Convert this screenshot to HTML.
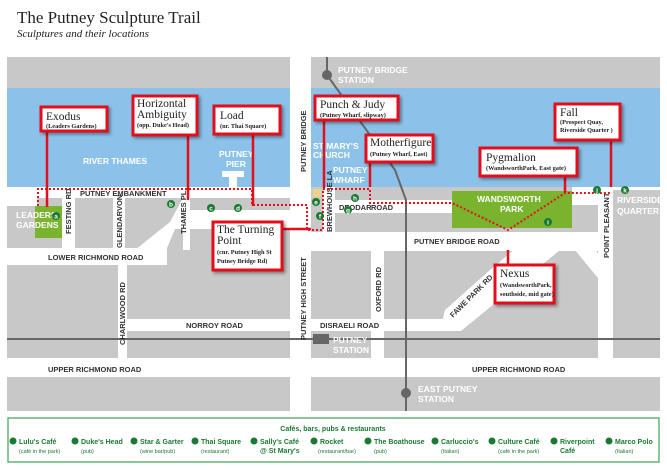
<!DOCTYPE html>
<html><head><meta charset="utf-8"><style>
html,body{margin:0;padding:0;background:#fff;}
svg{display:block;}
.r{font-family:"Liberation Sans",sans-serif;font-weight:bold;font-size:7.5px;fill:#333;}
.w{font-family:"Liberation Sans",sans-serif;font-weight:bold;font-size:8.5px;fill:#fff;}
.bx{fill:#fff;stroke:#e3101b;stroke-width:3;}
.bt{font-family:"Liberation Serif",serif;font-size:11.5px;fill:#222;}
.bs{font-family:"Liberation Serif",serif;font-size:6.3px;font-weight:bold;fill:#222;}
.ln{stroke:#e3101b;stroke-width:2.5;fill:none;}
.dt{stroke:#e3101b;stroke-width:2;stroke-dasharray:2 2;fill:none;}
.c{fill:#1a7a32;}
.cl{font-family:"Liberation Sans",sans-serif;font-weight:bold;font-size:6.5px;fill:#fff;text-anchor:middle;}
.lg{font-family:"Liberation Sans",sans-serif;font-weight:bold;font-size:7px;fill:#1a7a32;}
.ls{font-family:"Liberation Sans",sans-serif;font-size:5.5px;fill:#1a7a32;}
</style></head><body>
<svg width="667" height="472" viewBox="0 0 667 472" xmlns="http://www.w3.org/2000/svg">
<defs><filter id="sh" x="-10%" y="-10%" width="130%" height="140%"><feDropShadow dx="2" dy="2" stdDeviation="1.5" flood-opacity="0.4"/></filter></defs>
<text x="17" y="23" font-family="Liberation Serif,serif" font-size="17" fill="#222">The Putney Sculpture Trail</text>
<text x="17" y="37" font-family="Liberation Serif,serif" font-size="11" font-style="italic" fill="#222">Sculptures and their locations</text>
<rect x="7" y="57" width="653" height="354" fill="#c8c8c8"/>
<rect x="7" y="88" width="653" height="99" fill="#8cc2ea"/>
<g fill="#fff">
<rect x="7" y="187" width="283" height="11"/>
<rect x="7" y="187" width="30" height="19"/>
<rect x="290" y="57" width="21" height="354"/>
<rect x="62" y="198" width="13" height="52"/>
<rect x="113" y="198" width="12" height="52"/>
<rect x="7" y="248" width="160" height="17"/>
<polygon points="183,198 190,198 190,210 290,210 290,229 230,229 175,229 160,265 135,265 135,250 170,222"/>
<rect x="183" y="198" width="7" height="52"/>
<rect x="118" y="265" width="9" height="93"/>
<rect x="127" y="319" width="163" height="12"/>
<rect x="7" y="358" width="653" height="19"/>
<rect x="311" y="232" width="290" height="19"/>
<rect x="323" y="187" width="12" height="46"/>
<rect x="335" y="200" width="117" height="13"/>
<rect x="371" y="251" width="13" height="107"/>
<rect x="311" y="319" width="150" height="12"/>
<polygon points="440,331 461,331 560,250 580,250 535,232 490,270 445,310"/>
<polygon points="572,187 660,187 660,190 613,190 613,205 572,205"/>
<polygon points="560,232 580,232 612,270 612,358 598,358 598,278"/>
<rect x="598" y="190" width="15" height="168"/>
<rect x="311" y="213" width="12" height="20"/>
</g>
<rect x="190" y="199" width="62" height="11" fill="#c8c8c8"/>
<rect x="335" y="187" width="117" height="13" fill="#c8c8c8"/>
<rect x="311" y="187" width="12" height="45" fill="#c8c8c8"/>
<rect x="613" y="190" width="47" height="168" fill="#c8c8c8"/>
<rect x="35" y="206" width="27" height="32" fill="#7ab32e"/>
<rect x="452" y="191" width="120" height="37" fill="#7ab32e"/>
<rect x="313" y="189" width="8" height="8" fill="#f0d28a"/>
<rect x="222" y="171" width="22" height="6" fill="#fff"/><rect x="229" y="177" width="8" height="10" fill="#fff"/>
<g stroke="#666" stroke-width="2" fill="none">
<polyline points="327,57 327,75 395,170 406,200 406,411"/>
<line x1="7" y1="339" x2="660" y2="339"/>
</g>
<circle cx="327" cy="75" r="5" fill="#666"/>
<circle cx="406" cy="393" r="5" fill="#666"/>
<rect x="313" y="334" width="16" height="10" fill="#666"/>
<text class="w" x="83" y="164" font-size="11">RIVER THAMES</text>
<text class="w" x="219" y="157" font-size="8">PUTNEY</text><text class="w" x="226" y="167" font-size="8">PIER</text>
<text class="w" x="16" y="218" font-size="8">LEADERS</text><text class="w" x="16" y="228" font-size="8">GARDENS</text>
<text class="w" x="313" y="149" font-size="8">ST MARY'S</text><text class="w" x="313" y="158" font-size="8">CHURCH</text>
<text class="w" x="333" y="173" font-size="8">PUTNEY</text><text class="w" x="333" y="183" font-size="8">WHARF</text>
<text class="w" x="477" y="202" font-size="8">WANDSWORTH</text><text class="w" x="500" y="212" font-size="8">PARK</text>
<text class="w" x="617" y="203" font-size="8">RIVERSIDE</text><text class="w" x="617" y="214" font-size="8">QUARTER</text>
<text class="w" x="338" y="73" font-size="8">PUTNEY BRIDGE</text><text class="w" x="338" y="83" font-size="8">STATION</text>
<text class="w" x="333" y="343" font-size="8">PUTNEY</text><text class="w" x="333" y="353" font-size="8">STATION</text>
<text class="w" x="418" y="392" font-size="8">EAST PUTNEY</text><text class="w" x="418" y="402" font-size="8">STATION</text>
<text class="r" x="80" y="196">PUTNEY EMBANKMENT</text>
<text class="r" x="48" y="260">LOWER RICHMOND ROAD</text>
<text class="r" x="414" y="244">PUTNEY BRIDGE ROAD</text>
<text class="r" x="186" y="328" font-size="5.8">NORROY ROAD</text>
<text class="r" x="320" y="328" font-size="5.8">DISRAELI ROAD</text>
<text class="r" x="339" y="210" font-size="5.8">DEODAR</text><text class="r" x="371" y="210" font-size="5.8">ROAD</text>
<text class="r" x="48" y="372">UPPER RICHMOND ROAD</text>
<text class="r" x="472" y="372">UPPER RICHMOND ROAD</text>
<text class="r" transform="translate(306,172) rotate(-90)">PUTNEY BRIDGE</text>
<text class="r" transform="translate(306,340) rotate(-90)">PUTNEY HIGH STREET</text>
<text class="r" font-size="5.5" transform="translate(71,234) rotate(-90)">FESTING RD</text>
<text class="r" font-size="5.5" transform="translate(122,248) rotate(-90)">GLENDARVON</text>
<text class="r" font-size="5.5" transform="translate(186,234) rotate(-90)">THAMES PL</text>
<text class="r" font-size="5.5" transform="translate(332,232) rotate(-90)">BREWHOUSE LA</text>
<text class="r" font-size="5.5" transform="translate(125,345) rotate(-90)">CHARLWOOD RD</text>
<text class="r" font-size="5.5" transform="translate(381,312) rotate(-90)">OXFORD RD</text>
<text class="r" font-size="5.5" transform="translate(609,258) rotate(-90)">POINT PLEASANT</text>
<text class="r" font-size="5.5" transform="translate(453,318) rotate(-45)">FAWE PARK RD</text>
<polyline class="dt" points="38,206 38,189 252,189 252,205 307,205 307,230 323,230 323,189 370,189 370,203 452,203 508,230 565,193 612,193"/>
<line class="ln" x1="47" y1="131" x2="47" y2="207"/>
<line class="ln" x1="188" y1="135" x2="188" y2="200"/>
<line class="ln" x1="253" y1="134" x2="253" y2="206"/>
<line class="ln" x1="324" y1="120" x2="324" y2="188"/>
<line class="ln" x1="370" y1="162" x2="370" y2="187"/>
<line class="ln" x1="565" y1="176" x2="565" y2="192"/>
<line class="ln" x1="611" y1="140" x2="611" y2="187"/>
<line class="ln" x1="282" y1="229" x2="311" y2="229"/>
<line class="ln" x1="508" y1="250" x2="508" y2="265"/>
<g filter="url(#sh)">
<rect class="bx" x="41" y="107" width="66" height="24"/>
<rect class="bx" x="133" y="96" width="64" height="39"/>
<rect class="bx" x="214" y="106" width="66" height="28"/>
<rect class="bx" x="315" y="96" width="83" height="24"/>
<rect class="bx" x="366" y="135" width="67" height="27"/>
<rect class="bx" x="480" y="148" width="97" height="28"/>
<rect class="bx" x="555" y="104" width="65" height="36"/>
<rect class="bx" x="213" y="222" width="69" height="48"/>
<rect class="bx" x="495" y="265" width="59" height="38"/>
</g>
<text class="bt" x="46" y="120">Exodus</text><text class="bs" x="46" y="128">(Leaders Gardens)</text>
<text class="bt" x="137" y="107">Horizontal</text><text class="bt" x="137" y="118">Ambiguity</text><text class="bs" x="137" y="127">(opp. Duke's Head)</text>
<text class="bt" x="220" y="119">Load</text><text class="bs" x="220" y="128">(nr. Thai Square)</text>
<text class="bt" x="320" y="108">Punch &amp; Judy</text><text class="bs" x="320" y="117">(Putney Wharf, slipway)</text>
<text class="bt" x="370" y="146">Motherfigure</text><text class="bs" x="370" y="156">(Putney Wharf, East)</text>
<text class="bt" x="486" y="161">Pygmalion</text><text class="bs" x="486" y="170">(WandsworthPark, East gate)</text>
<text class="bt" x="560" y="116">Fall</text><text class="bs" x="560" y="124">(Prospect Quay,</text><text class="bs" x="560" y="132">Riverside Quarter )</text>
<text class="bt" x="217" y="233">The Turning</text><text class="bt" x="217" y="244">Point</text><text class="bs" x="217" y="254">(cnr. Putney High St</text><text class="bs" x="217" y="263">Putney Bridge Rd)</text>
<text class="bt" x="500" y="277">Nexus</text><text class="bs" x="500" y="287">(WandsworthPark,</text><text class="bs" x="500" y="296">southside, mid gate)</text>
<g>
<circle class="c" cx="56" cy="216" r="4"/><text class="cl" x="56" y="218.5">a</text>
<circle class="c" cx="171" cy="204" r="4"/><text class="cl" x="171" y="206.5">b</text>
<circle class="c" cx="211" cy="208" r="4"/><text class="cl" x="211" y="210.5">c</text>
<circle class="c" cx="238" cy="208" r="4"/><text class="cl" x="238" y="210.5">d</text>
<circle class="c" cx="316" cy="202" r="4"/><text class="cl" x="316" y="204.5">e</text>
<circle class="c" cx="320" cy="216" r="4"/><text class="cl" x="320" y="218.5">f</text>
<circle class="c" cx="348" cy="210" r="4"/><text class="cl" x="348" y="212.5">g</text>
<circle class="c" cx="355" cy="198" r="4"/><text class="cl" x="355" y="200.5">h</text>
<circle class="c" cx="548" cy="222" r="4"/><text class="cl" x="548" y="224.5">i</text>
<circle class="c" cx="597" cy="190" r="4"/><text class="cl" x="597" y="192.5">j</text>
<circle class="c" cx="625" cy="190" r="4"/><text class="cl" x="625" y="192.5">k</text>
</g>
<rect x="8" y="418" width="651" height="44" fill="#fff" stroke="#3aa55a" stroke-width="1.2"/>
<text class="lg" x="333" y="431" text-anchor="middle" font-size="8.5">Cafés, bars, pubs &amp; restaurants</text>
<g>
<circle class="c" cx="13" cy="441" r="3.5"/><text class="lg" x="19" y="444">Lulu's Café</text><text class="ls" x="19" y="453">(café in the park)</text>
<circle class="c" cx="75" cy="441" r="3.5"/><text class="lg" x="81" y="444">Duke's Head</text><text class="ls" x="81" y="453">(pub)</text>
<circle class="c" cx="134" cy="441" r="3.5"/><text class="lg" x="140" y="444">Star &amp; Garter</text><text class="ls" x="140" y="453">(wine bar/pub)</text>
<circle class="c" cx="195" cy="441" r="3.5"/><text class="lg" x="201" y="444">Thai Square</text><text class="ls" x="201" y="453">(restaurant)</text>
<circle class="c" cx="254" cy="441" r="3.5"/><text class="lg" x="260" y="444">Sally's Café</text><text class="lg" x="260" y="453">@ St Mary's</text>
<circle class="c" cx="314" cy="441" r="3.5"/><text class="lg" x="320" y="444">Rocket</text><text class="ls" x="318" y="453">(restaurant/bar)</text>
<circle class="c" cx="368" cy="441" r="3.5"/><text class="lg" x="374" y="444">The Boathouse</text><text class="ls" x="374" y="453">(pub)</text>
<circle class="c" cx="435" cy="441" r="3.5"/><text class="lg" x="441" y="444">Carluccio's</text><text class="ls" x="441" y="453">(Italian)</text>
<circle class="c" cx="492" cy="441" r="3.5"/><text class="lg" x="498" y="444">Culture Café</text><text class="ls" x="498" y="453">(café in the park)</text>
<circle class="c" cx="554" cy="441" r="3.5"/><text class="lg" x="560" y="444">Riverpoint</text><text class="lg" x="560" y="453">Café</text>
<circle class="c" cx="609" cy="441" r="3.5"/><text class="lg" x="615" y="444">Marco Polo</text><text class="ls" x="615" y="453">(Italian)</text>
</g>
</svg>
</body></html>
